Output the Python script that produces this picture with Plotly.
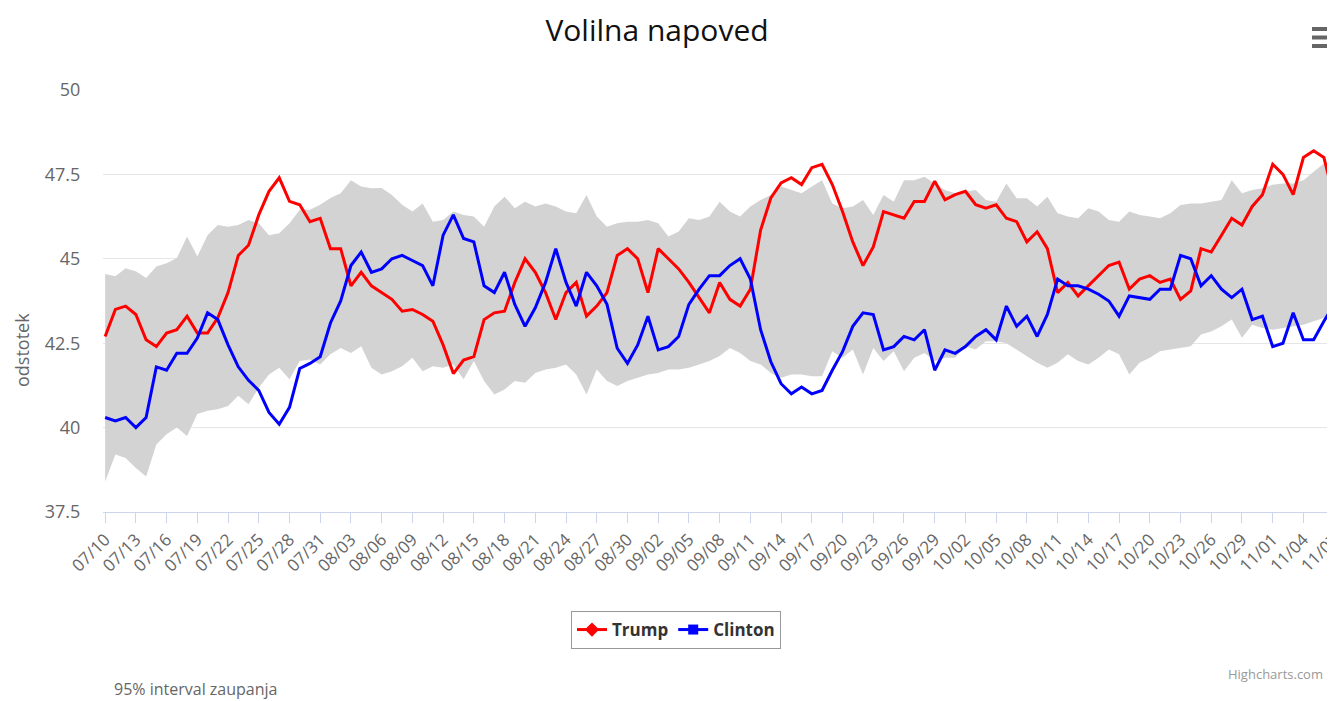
import pandas as pd
import plotly.graph_objects as go

start_date = "2016-07-10"
n_days = 121

trump = [42.7, 43.5, 43.6, 43.35, 42.6, 42.4, 42.8, 42.9, 43.3, 42.8,
         42.8, 43.25, 44.0, 45.1, 45.4, 46.3, 47.0, 47.4, 46.7, 46.6,
         46.1, 46.2, 45.3, 45.3, 44.2, 44.6, 44.2, 44.0, 43.8, 43.45,
         43.5, 43.35, 43.15, 42.45, 41.6, 42.0, 42.1, 43.2, 43.4, 43.45,
         44.3, 45.0, 44.6, 44.0, 43.2, 44.0, 44.3, 43.3, 43.6, 44.0,
         45.1, 45.3, 45.0, 44.0, 45.3, 45.0, 44.7, 44.3, 43.85, 43.4,
         44.3, 43.8, 43.6, 44.1, 45.85, 46.8, 47.25, 47.4, 47.2, 47.7,
         47.8, 47.2, 46.4, 45.5, 44.8, 45.35, 46.4, 46.3, 46.2, 46.7,
         46.7, 47.3, 46.75, 46.9, 47.0, 46.6, 46.5, 46.6, 46.2, 46.1,
         45.5, 45.8, 45.3, 44.0, 44.3, 43.9, 44.2, 44.5, 44.8, 44.9,
         44.1, 44.4, 44.5, 44.3, 44.4, 43.8, 44.05, 45.3, 45.2, 45.7,
         46.2, 46.0, 46.55, 46.9, 47.8, 47.5, 46.9, 48.0, 48.2, 48.0,
         46.8]

clinton = [40.3, 40.2, 40.3, 40.0, 40.3, 41.8, 41.7, 42.2, 42.2, 42.65,
           43.4, 43.2, 42.45, 41.8, 41.4, 41.1, 40.45, 40.1, 40.6, 41.75,
           41.9, 42.1, 43.1, 43.75, 44.8, 45.2, 44.6, 44.7, 45.0, 45.1,
           44.95, 44.8, 44.2, 45.7, 46.3, 45.6, 45.5, 44.2, 44.0, 44.6,
           43.65, 43.0, 43.55, 44.3, 45.3, 44.3, 43.6, 44.6, 44.2, 43.65,
           42.35, 41.9, 42.45, 43.3, 42.3, 42.4, 42.7, 43.65, 44.1, 44.5,
           44.5, 44.8, 45.0, 44.4, 42.9, 41.95, 41.3, 41.0, 41.2, 41.0,
           41.1, 41.7, 42.25, 43.0, 43.4, 43.35, 42.3, 42.4, 42.7, 42.6,
           42.9, 41.7, 42.3, 42.2, 42.4, 42.7, 42.9, 42.6, 43.6, 43.0,
           43.3, 42.7, 43.35, 44.4, 44.2, 44.2, 44.1, 43.95, 43.75, 43.3,
           43.9, 43.85, 43.8, 44.1, 44.1, 45.1, 45.0, 44.2, 44.5, 44.1,
           43.85, 44.1, 43.2, 43.3, 42.4, 42.5, 43.4, 42.6, 42.6, 43.15,
           43.65]

band_upper = [44.55, 44.48, 44.72, 44.63, 44.43, 44.77, 44.87, 45.02, 45.66, 45.07,
              45.7, 46.0, 45.95, 46.0, 46.15, 46.05, 45.7, 45.76, 46.05, 46.45,
              46.45, 46.6, 46.8, 46.94, 47.33, 47.14, 47.09, 47.1, 46.89, 46.6,
              46.4, 46.64, 46.1, 46.15, 46.4, 46.3, 46.25, 45.95, 46.55, 46.84,
              46.5, 46.69, 46.55, 46.64, 46.55, 46.4, 46.35, 46.89, 46.25, 45.95,
              46.05, 46.1, 46.1, 46.15, 46.05, 45.66, 45.81, 46.2, 46.15, 46.25,
              46.69, 46.4, 46.25, 46.55, 46.74, 46.89, 47.14, 47.04, 46.94, 47.14,
              47.33, 46.64, 46.5, 46.55, 46.74, 46.3, 46.89, 46.69, 47.33, 47.33,
              47.43, 47.23, 47.04, 46.94, 46.99, 47.04, 46.74, 46.69, 47.23, 46.79,
              46.79, 46.55, 46.84, 46.35, 46.25, 46.2, 46.5, 46.4, 46.15, 46.1,
              46.4, 46.3, 46.25, 46.2, 46.35, 46.59, 46.64, 46.64, 46.69, 46.74,
              47.33, 46.94, 47.04, 47.09, 47.19, 47.23, 47.23, 47.33, 47.58, 47.82,
              47.87]

band_lower = [38.4, 39.2, 39.1, 38.8, 38.55, 39.5, 39.8, 40.0, 39.75, 40.4,
              40.5, 40.54, 40.64, 40.94, 40.69, 41.18, 41.57, 41.77, 41.43, 41.97,
              42.02, 41.87, 42.17, 42.36, 42.21, 42.41, 41.77, 41.57, 41.67, 41.82,
              42.07, 41.67, 41.82, 41.77, 41.87, 41.43, 41.97, 41.38, 40.98, 41.13,
              41.38, 41.33, 41.62, 41.72, 41.77, 41.87, 41.57, 40.98, 41.72, 41.38,
              41.23, 41.38, 41.48, 41.57, 41.62, 41.72, 41.72, 41.77, 41.87, 41.97,
              42.12, 42.36, 42.21, 41.97, 41.87, 41.62, 41.48, 41.57, 41.57, 41.52,
              41.52, 42.26, 42.07, 42.31, 41.57, 42.36, 41.97, 42.26, 41.67, 42.07,
              42.21, 41.97, 42.07, 42.07, 42.41, 42.31, 42.56, 42.56, 42.5, 42.3,
              42.1, 41.92, 41.77, 41.92, 42.17, 41.97, 41.87, 42.07, 42.31, 42.17,
              41.57, 41.92, 42.07, 42.26, 42.31, 42.36, 42.41, 42.76, 42.85, 43.0,
              43.2, 42.66, 43.05, 42.95, 42.9, 42.95, 43.0, 43.05, 43.15, 43.25,
              43.45]

y_ticks = [37.5, 40, 42.5, 45, 47.5, 50]
y_tick_labels = ["37.5", "40", "42.5", "45", "47.5", "50"]

dates = pd.date_range(start_date, periods=n_days, freq="D")

FONT = "Open Sans, DejaVu Sans, sans-serif"
OFF = 8  # page body margin
W, H = 1335 - OFF, 701 - OFF
L, T = 103 - OFF, 90 - OFF
PLOT_BOTTOM = 512 - OFF
R, B = 0, H - PLOT_BOTTOM
PW, PH = W - L - R, H - T - B


def px_x(x):
    return (x - OFF - L) / PW


def px_y(y):
    return (PLOT_BOTTOM - (y - OFF)) / PH


fig = go.Figure()

fig.add_trace(go.Scatter(x=dates, y=band_lower, mode="lines", line=dict(width=0, color="#d3d3d3"),
                         showlegend=False, hoverinfo="skip"))
fig.add_trace(go.Scatter(x=dates, y=band_upper, mode="lines", line=dict(width=0, color="#d3d3d3"),
                         fill="tonexty", fillcolor="#d3d3d3", showlegend=False,
                         name="95% interval zaupanja"))
fig.add_trace(go.Scatter(x=dates, y=trump, mode="lines", line=dict(color="#ff0000", width=3),
                         name="Trump", showlegend=False))
fig.add_trace(go.Scatter(x=dates, y=clinton, mode="lines", line=dict(color="#0000ff", width=3),
                         name="Clinton", showlegend=False))
# legend entries
fig.add_trace(go.Scatter(x=[None], y=[None], mode="lines+markers", name="Trump",
                         line=dict(color="#ff0000", width=3),
                         marker=dict(symbol="diamond", size=11, color="#ff0000")))
fig.add_trace(go.Scatter(x=[None], y=[None], mode="lines+markers", name="Clinton",
                         line=dict(color="#0000ff", width=3),
                         marker=dict(symbol="square", size=10, color="#0000ff")))

x_start = dates[0] - pd.Timedelta(hours=5)
x_end = dates[-1] + pd.Timedelta(hours=2)

fig.update_layout(
    width=W, height=H,
    margin=dict(l=L, r=R, t=T, b=B, autoexpand=False),
    paper_bgcolor="white", plot_bgcolor="white",
    font=dict(family=FONT, color="#666666"),
    title=dict(text="Volilna napoved", x=(657 - OFF) / W, xref="container", xanchor="center",
               y=1 - (30 - OFF) / H, yref="container", yanchor="middle",
               font=dict(family=FONT, size=30, color="#111111")),
    showlegend=True,
    legend=dict(orientation="h", x=px_x(676), xanchor="center", y=px_y(611), yanchor="top",
                traceorder="normal",
                bordercolor="#999999", borderwidth=1, bgcolor="white",
                font=dict(family=FONT, size=17, color="#333333", weight="bold"),
                itemwidth=30, tracegroupgap=0),
    xaxis=dict(type="date", range=[x_start, x_end], tick0=start_date, dtick=3 * 86400000,
               tickformat="%m/%d", tickangle=-45, ticks="outside", ticklen=10,
               tickcolor="#ccd6eb", showline=True, linecolor="#ccd6eb", linewidth=1,
               showgrid=False, zeroline=False, automargin=False, ticklabeloverflow="allow",
               tickfont=dict(family=FONT, size=17, color="#666666")),
    yaxis=dict(range=[37.5, 50], tickvals=y_ticks, ticktext=y_tick_labels,
               showgrid=True, gridcolor="#e6e6e6", gridwidth=1, zeroline=False,
               ticks="outside", ticklen=18, tickcolor="rgba(0,0,0,0)", showline=False,
               automargin=False, tickfont=dict(family=FONT, size=18, color="#666666")),
    annotations=[
        dict(text="odstotek", xref="paper", yref="paper", x=px_x(22), y=px_y(350),
             textangle=-90, showarrow=False, xanchor="center", yanchor="middle",
             font=dict(family=FONT, size=18, color="#666666")),
        dict(text="95% interval zaupanja", xref="paper", yref="paper", x=px_x(112), y=px_y(689),
             showarrow=False, xanchor="left", yanchor="middle",
             font=dict(family=FONT, size=16, color="#666666")),
        dict(text="Highcharts.com", xref="paper", yref="paper", x=px_x(1325), y=px_y(674),
             showarrow=False, xanchor="right", yanchor="middle",
             font=dict(family=FONT, size=13, color="#999999")),
    ],
    shapes=[
        dict(type="line", xref="paper", yref="paper", x0=px_x(1312), x1=px_x(1327),
             y0=px_y(yy), y1=px_y(yy), line=dict(color="#666666", width=4))
        for yy in (29, 37.5, 46)
    ],
)

fig.write_html("out.html")
